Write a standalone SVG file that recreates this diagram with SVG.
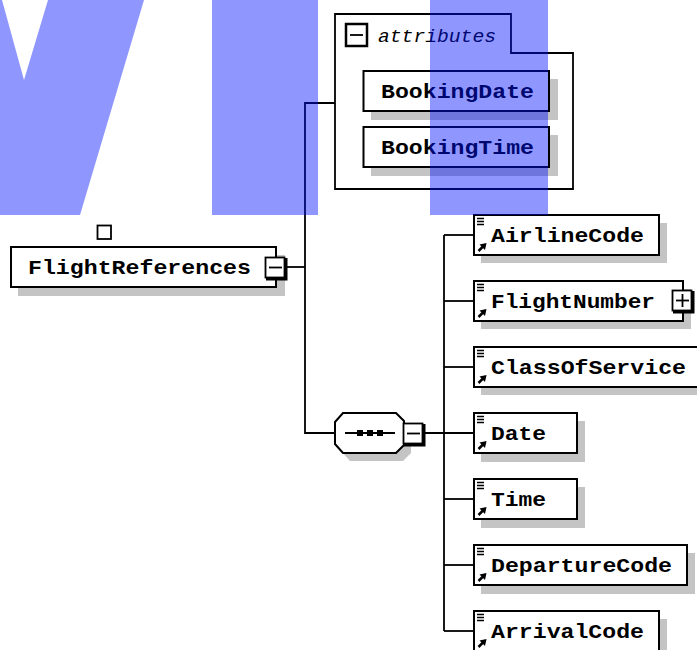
<svg xmlns="http://www.w3.org/2000/svg" xmlns:xlink="http://www.w3.org/1999/xlink" width="697" height="650" viewBox="0 0 697 650">
<style>
.box{fill:#fff;stroke:#000;stroke-width:2}
.shadow{fill:#c4c4c4;stroke:none}
.line{fill:none;stroke:#000;stroke-width:1.8}
.lbl{font-family:"Liberation Mono","DejaVu Sans Mono",monospace;font-weight:bold;font-size:21px;fill:#000}
.attr{font-family:"Liberation Mono","DejaVu Sans Mono",monospace;font-style:italic;font-size:18px;fill:#000}
.btn{fill:#fff;stroke:#000;stroke-width:1.8}
.thick{fill:none;stroke:#000;stroke-width:3}
.wm{fill:rgb(0,19,255);opacity:0.44}
</style>
<defs>
<g id="icon">
<path d="M3 3.5H10M3 6.5H10M3 9.5H10" stroke="#000" stroke-width="1.5" fill="none"/>
<path d="M4.5 36L10 30.5" stroke="#000" stroke-width="2.5" fill="none"/>
<polygon points="12.5,28 5.5,29.5 11,35" fill="#000"/>
</g>
</defs>

<g id="connectors">
<polyline class="line" points="335,103 305,103 305,433 335,433"/>
<line class="line" x1="286" y1="267" x2="305" y2="267"/>
<line class="line" x1="424" y1="433" x2="474" y2="433"/>
<line class="line" x1="444" y1="235" x2="444" y2="631"/>
<line class="line" x1="444" y1="235" x2="474" y2="235"/>
<line class="line" x1="444" y1="301" x2="474" y2="301"/>
<line class="line" x1="444" y1="367" x2="474" y2="367"/>
<line class="line" x1="444" y1="499" x2="474" y2="499"/>
<line class="line" x1="444" y1="565" x2="474" y2="565"/>
<line class="line" x1="444" y1="631" x2="474" y2="631"/>
</g>

<g id="attributes">
<polygon class="line" points="335,14 511,14 511,53 573,53 573,189 335,189 335,14"/>
<rect x="346" y="24" width="21" height="22" fill="#fff" stroke="#000" stroke-width="2.5"/>
<line x1="350" y1="35" x2="363" y2="35" stroke="#000" stroke-width="1.8"/>
<text class="attr" x="378" y="42" textLength="118" lengthAdjust="spacingAndGlyphs">attributes</text>
</g>

<g id="BookingDate">
<rect class="shadow" x="371" y="79" width="187" height="41"/>
<rect class="box" x="363.5" y="71" width="185.5" height="40"/>
<text class="lbl" x="381" y="98" textLength="153" lengthAdjust="spacingAndGlyphs">BookingDate</text>
</g>

<g id="BookingTime">
<rect class="shadow" x="371" y="135" width="187" height="41"/>
<rect class="box" x="363.5" y="127" width="185.5" height="40"/>
<text class="lbl" x="381" y="154" textLength="153" lengthAdjust="spacingAndGlyphs">BookingTime</text>
</g>

<g id="FlightReferences">
<rect x="97.5" y="225.5" width="13.5" height="13.5" fill="none" stroke="#000" stroke-width="1.8"/>
<rect class="shadow" x="18" y="255" width="267" height="41"/>
<rect class="box" x="11" y="247" width="265" height="40"/>
<text class="lbl" x="28" y="274" textLength="223" lengthAdjust="spacingAndGlyphs">FlightReferences</text>
<rect class="btn" x="265.5" y="257.5" width="19" height="20"/>
<polyline class="thick" points="286,258 286,279 266,279"/>
<line x1="269" y1="267.5" x2="282" y2="267.5" stroke="#000" stroke-width="1.8"/>
</g>

<g id="sequence">
<polygon class="shadow" points="342,430 350,421 403,421 411,429 411,453 403,461 350,461 342,452"/>
<polygon class="box" points="335,422 343,413 396,413 404,421 404,445 396,453 343,453 335,444"/>
<line x1="345" y1="433" x2="395" y2="433" stroke="#000" stroke-width="1.8"/>
<rect x="357" y="430" width="6" height="6" fill="#000"/>
<rect x="367" y="430" width="6" height="6" fill="#000"/>
<rect x="377" y="430" width="6" height="6" fill="#000"/>
<rect class="btn" x="403.5" y="423.5" width="19" height="20"/>
<polyline class="thick" points="424,424 424,445 404,445"/>
<line x1="407" y1="433.5" x2="420" y2="433.5" stroke="#000" stroke-width="1.8"/>
</g>

<g id="AirlineCode">
<rect class="shadow" x="481" y="223" width="186" height="40"/>
<rect class="box" x="474" y="215" width="185" height="40"/>
<use xlink:href="#icon" x="474" y="215"/>
<text class="lbl" x="491" y="242" textLength="153" lengthAdjust="spacingAndGlyphs">AirlineCode</text>
</g>

<g id="FlightNumber">
<rect class="shadow" x="481" y="289" width="210" height="40"/>
<rect class="box" x="474" y="281" width="209" height="40"/>
<use xlink:href="#icon" x="474" y="281"/>
<text class="lbl" x="491" y="308" textLength="164" lengthAdjust="spacingAndGlyphs">FlightNumber</text>
<rect class="btn" x="672.5" y="290.5" width="19" height="20"/>
<polyline class="thick" points="693,291 693,312 673,312"/>
<line x1="676" y1="300.5" x2="689" y2="300.5" stroke="#000" stroke-width="1.8"/>
<line x1="682.5" y1="294" x2="682.5" y2="307" stroke="#000" stroke-width="1.8"/>
</g>

<g id="ClassOfService">
<rect class="shadow" x="481" y="355" width="230" height="40"/>
<rect class="box" x="474" y="347" width="230" height="40"/>
<use xlink:href="#icon" x="474" y="347"/>
<text class="lbl" x="491" y="374" textLength="195" lengthAdjust="spacingAndGlyphs">ClassOfService</text>
</g>

<g id="Date">
<rect class="shadow" x="481" y="421" width="104" height="41"/>
<rect class="box" x="474" y="413" width="103" height="40"/>
<use xlink:href="#icon" x="474" y="413"/>
<text class="lbl" x="491" y="440" textLength="55" lengthAdjust="spacingAndGlyphs">Date</text>
</g>

<g id="Time">
<rect class="shadow" x="481" y="487" width="104" height="41"/>
<rect class="box" x="474" y="479" width="103" height="40"/>
<use xlink:href="#icon" x="474" y="479"/>
<text class="lbl" x="491" y="506" textLength="55" lengthAdjust="spacingAndGlyphs">Time</text>
</g>

<g id="DepartureCode">
<rect class="shadow" x="481" y="553" width="214" height="41"/>
<rect class="box" x="474" y="545" width="213" height="40"/>
<use xlink:href="#icon" x="474" y="545"/>
<text class="lbl" x="491" y="572" textLength="181" lengthAdjust="spacingAndGlyphs">DepartureCode</text>
</g>

<g id="ArrivalCode">
<rect class="shadow" x="481" y="619" width="186" height="41"/>
<rect class="box" x="474" y="611" width="185" height="40"/>
<use xlink:href="#icon" x="474" y="611"/>
<text class="lbl" x="491" y="638" textLength="153" lengthAdjust="spacingAndGlyphs">ArrivalCode</text>
</g>

<g id="watermark">
<polygon class="wm" points="0,0 2,0 24,80 48,0 144,0 80,215 0,215"/>
<rect class="wm" x="212" y="0" width="106" height="215"/>
<rect class="wm" x="430" y="0" width="118" height="215"/>
</g>
</svg>
